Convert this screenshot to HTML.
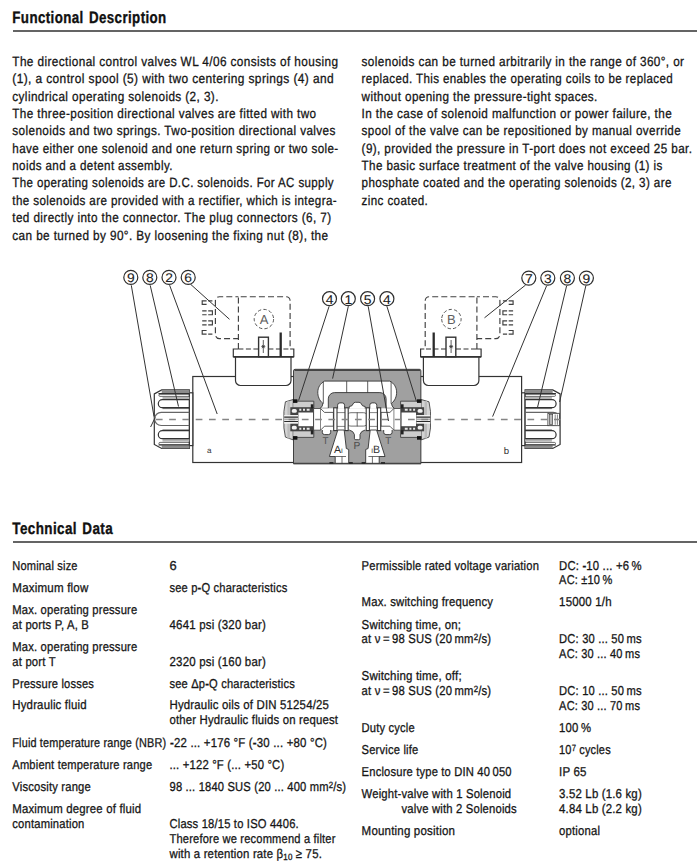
<!DOCTYPE html>
<html lang="en"><head><meta charset="utf-8"><title>Functional Description</title>
<style>
html,body{margin:0;padding:0;background:#fff}
body{text-rendering:geometricPrecision;width:697px;height:868px;position:relative;overflow:hidden;font-family:"Liberation Sans",sans-serif;color:#161616}
.t,.h,.p{position:absolute;white-space:nowrap;line-height:14px;transform-origin:0 0;margin:0}
.p{font-size:13.4px;letter-spacing:0.45px;-webkit-text-stroke:0.3px #161616}
.t{font-size:12.9px;letter-spacing:0.2px;-webkit-text-stroke:0.3px #161616}
.h{font-size:16.6px;font-weight:bold;color:#111;letter-spacing:0.5px;line-height:19px;-webkit-text-stroke:0.35px #111;word-spacing:1.5px}
.sup{font-size:70%;position:relative;top:-0.36em}
.sub{font-size:70%;position:relative;top:0.2em}
.rule{position:absolute;left:13px;width:684px;height:2px;background:#646464}
svg{position:absolute;left:0;top:0}
</style></head><body>
<h2 class="h" id="l0" style="left:12px;top:8px;transform:translateX(0.30px) scaleX(0.8027)">Functional Description</h2>
<h2 class="h" id="l1" style="left:12px;top:519px;transform:translateX(0.30px) scaleX(0.8099)">Technical Data</h2>
<div class="p" id="l2" style="left:12px;top:55px;transform:translateX(0.30px) scaleX(0.8808)">The directional control valves WL 4/06 consists of housing</div>
<div class="p" id="l3" style="left:12px;top:72px;transform:translateX(0.30px) scaleX(0.8900)">(1), a control spool (5) with two centering springs (4) and</div>
<div class="p" id="l4" style="left:12px;top:90px;transform:translateX(0.30px) scaleX(0.8792)">cylindrical operating solenoids (2, 3).</div>
<div class="p" id="l5" style="left:12px;top:107px;transform:translateX(0.30px) scaleX(0.8740)">The three-position directional valves are fitted with two</div>
<div class="p" id="l6" style="left:12px;top:124px;transform:translateX(0.30px) scaleX(0.8767)">solenoids and two springs. Two-position directional valves</div>
<div class="p" id="l7" style="left:12px;top:142px;transform:translateX(0.30px) scaleX(0.8669)">have either one solenoid and one return spring or two sole-</div>
<div class="p" id="l8" style="left:12px;top:159px;transform:translateX(0.30px) scaleX(0.8639)">noids and a detent assembly.</div>
<div class="p" id="l9" style="left:12px;top:176px;transform:translateX(0.30px) scaleX(0.8602)">The operating solenoids are D.C. solenoids. For AC supply</div>
<div class="p" id="l10" style="left:12px;top:194px;transform:translateX(0.30px) scaleX(0.8665)">the solenoids are provided with a rectifier, which is integra-</div>
<div class="p" id="l11" style="left:12px;top:211px;transform:translateX(0.30px) scaleX(0.8763)">ted directly into the connector. The plug connectors (6, 7)</div>
<div class="p" id="l12" style="left:12px;top:229px;transform:translateX(0.30px) scaleX(0.8790)">can be turned by 90°. By loosening the fixing nut (8), the</div>
<div class="p" id="l13" style="left:361px;top:55px;transform:translateX(0.60px) scaleX(0.8770)">solenoids can be turned arbitrarily in the range of 360°, or</div>
<div class="p" id="l14" style="left:361px;top:72px;transform:translateX(0.60px) scaleX(0.8623)">replaced. This enables the operating coils to be replaced</div>
<div class="p" id="l15" style="left:361px;top:90px;transform:translateX(0.60px) scaleX(0.8728)">without opening the pressure-tight spaces.</div>
<div class="p" id="l16" style="left:361px;top:107px;transform:translateX(0.60px) scaleX(0.8773)">In the case of solenoid malfunction or power failure, the</div>
<div class="p" id="l17" style="left:361px;top:124px;transform:translateX(0.60px) scaleX(0.8680)">spool of the valve can be repositioned by manual override</div>
<div class="p" id="l18" style="left:361px;top:142px;transform:translateX(0.60px) scaleX(0.8712)">(9), provided the pressure in T-port does not exceed 25 bar.</div>
<div class="p" id="l19" style="left:361px;top:159px;transform:translateX(0.60px) scaleX(0.8674)">The basic surface treatment of the valve housing (1) is</div>
<div class="p" id="l20" style="left:361px;top:176px;transform:translateX(0.60px) scaleX(0.8676)">phosphate coated and the operating solenoids (2, 3) are</div>
<div class="p" id="l21" style="left:361px;top:194px;transform:translateX(0.60px) scaleX(0.8666)">zinc coated.</div>
<div class="t" id="l22" style="left:12px;top:559px;transform:translateX(0.30px) scaleX(0.8580)">Nominal size</div>
<div class="t" id="l23" style="left:169px;top:559px;transform:translateX(0.50px) scaleX(1.0007)">6</div>
<div class="t" id="l24" style="left:12px;top:581px;transform:translateX(0.30px) scaleX(0.8985)">Maximum flow</div>
<div class="t" id="l25" style="left:169px;top:581px;transform:translateX(0.50px) scaleX(0.8640)">see p<b>-</b>Q characteristics</div>
<div class="t" id="l26" style="left:12px;top:603px;transform:translateX(0.30px) scaleX(0.8710)">Max. operating pressure</div>
<div class="t" id="l27" style="left:12px;top:618px;transform:translateX(0.30px) scaleX(0.8760)">at ports P, A, B</div>
<div class="t" id="l28" style="left:169px;top:618px;transform:translateX(0.50px) scaleX(0.8914)">4641 psi (320 bar)</div>
<div class="t" id="l29" style="left:12px;top:640px;transform:translateX(0.30px) scaleX(0.8710)">Max. operating pressure</div>
<div class="t" id="l30" style="left:12px;top:655px;transform:translateX(0.30px) scaleX(0.8770)">at port T</div>
<div class="t" id="l31" style="left:169px;top:655px;transform:translateX(0.50px) scaleX(0.8914)">2320 psi (160 bar)</div>
<div class="t" id="l32" style="left:12px;top:677px;transform:translateX(0.30px) scaleX(0.8625)">Pressure losses</div>
<div class="t" id="l33" style="left:169px;top:677px;transform:translateX(0.50px) scaleX(0.8632)">see &Delta;p<b>-</b>Q characteristics</div>
<div class="t" id="l34" style="left:12px;top:698px;transform:translateX(0.30px) scaleX(0.8858)">Hydraulic fluid</div>
<div class="t" id="l35" style="left:169px;top:698px;transform:translateX(0.50px) scaleX(0.8859)">Hydraulic oils of DIN 51254/25</div>
<div class="t" id="l36" style="left:169px;top:713px;transform:translateX(0.50px) scaleX(0.8805)">other Hydraulic fluids on request</div>
<div class="t" id="l37" style="left:12px;top:736px;transform:translateX(0.30px) scaleX(0.8425)">Fluid temperature range (NBR)</div>
<div class="t" id="l38" style="left:170px;top:736px;transform:translateX(0.00px) scaleX(0.8863)"><b>-</b>22 ... +176 °F (<b>-</b>30 ... +80 °C)</div>
<div class="t" id="l39" style="left:12px;top:758px;transform:translateX(0.30px) scaleX(0.8644)">Ambient temperature range</div>
<div class="t" id="l40" style="left:169px;top:758px;transform:translateX(0.50px) scaleX(0.8757)">... +122 °F (... +50 °C)</div>
<div class="t" id="l41" style="left:12px;top:780px;transform:translateX(0.30px) scaleX(0.8724)">Viscosity range</div>
<div class="t" id="l42" style="left:169px;top:780px;transform:translateX(0.50px) scaleX(0.8667)">98 ... 1840 SUS (20 ... 400 mm<span class="sup">2</span>/s)</div>
<div class="t" id="l43" style="left:12px;top:802px;transform:translateX(0.30px) scaleX(0.8843)">Maximum degree of fluid</div>
<div class="t" id="l44" style="left:12px;top:817px;transform:translateX(0.30px) scaleX(0.8711)">contamination</div>
<div class="t" id="l45" style="left:169px;top:817px;transform:translateX(0.50px) scaleX(0.8692)">Class 18/15 to ISO 4406.</div>
<div class="t" id="l46" style="left:169px;top:832px;transform:translateX(0.50px) scaleX(0.8628)">Therefore we recommend a filter</div>
<div class="t" id="l47" style="left:169px;top:847px;transform:translateX(0.50px) scaleX(0.8834)">with a retention rate &beta;<span class="sub">10</span> &ge; 75.</div>
<div class="t" id="l48" style="left:361px;top:559px;transform:translateX(0.60px) scaleX(0.8698)">Permissible rated voltage variation</div>
<div class="t" id="l49" style="left:559px;top:559px;transform:translateX(0.10px) scaleX(0.8770)">DC: <b>-</b>10 ... +6&#8201;%</div>
<div class="t" id="l50" style="left:559px;top:573px;transform:translateX(0.10px) scaleX(0.8564)">AC: ±10&#8201;%</div>
<div class="t" id="l51" style="left:361px;top:595px;transform:translateX(0.60px) scaleX(0.8799)">Max. switching frequency</div>
<div class="t" id="l52" style="left:559px;top:595px;transform:translateX(0.10px) scaleX(0.8905)">15000 1/h</div>
<div class="t" id="l53" style="left:361px;top:618px;transform:translateX(0.60px) scaleX(0.8891)">Switching time, on;</div>
<div class="t" id="l54" style="left:361px;top:632px;transform:translateX(0.60px) scaleX(0.8744)">at &nu;&#8201;=&#8201;98 SUS (20&#8201;mm<span class="sup">2</span>/s)</div>
<div class="t" id="l55" style="left:559px;top:632px;transform:translateX(0.10px) scaleX(0.8672)">DC: 30 ... 50&#8201;ms</div>
<div class="t" id="l56" style="left:559px;top:647px;transform:translateX(0.10px) scaleX(0.8558)">AC: 30 ... 40&#8201;ms</div>
<div class="t" id="l57" style="left:361px;top:669px;transform:translateX(0.60px) scaleX(0.8948)">Switching time, off;</div>
<div class="t" id="l58" style="left:361px;top:684px;transform:translateX(0.60px) scaleX(0.8744)">at &nu;&#8201;=&#8201;98 SUS (20&#8201;mm<span class="sup">2</span>/s)</div>
<div class="t" id="l59" style="left:559px;top:684px;transform:translateX(0.10px) scaleX(0.8672)">DC: 10 ... 50&#8201;ms</div>
<div class="t" id="l60" style="left:559px;top:699px;transform:translateX(0.10px) scaleX(0.8558)">AC: 30 ... 70&#8201;ms</div>
<div class="t" id="l61" style="left:361px;top:721px;transform:translateX(0.60px) scaleX(0.8668)">Duty cycle</div>
<div class="t" id="l62" style="left:559px;top:721px;transform:translateX(0.10px) scaleX(0.8774)">100&#8201;%</div>
<div class="t" id="l63" style="left:361px;top:743px;transform:translateX(0.60px) scaleX(0.8675)">Service life</div>
<div class="t" id="l64" style="left:559px;top:743px;transform:translateX(0.10px) scaleX(0.8505)">10<span class="sup">7</span> cycles</div>
<div class="t" id="l65" style="left:361px;top:765px;transform:translateX(0.60px) scaleX(0.8681)">Enclosure type to DIN 40&#8201;050</div>
<div class="t" id="l66" style="left:559px;top:765px;transform:translateX(0.10px) scaleX(0.8933)">IP 65</div>
<div class="t" id="l67" style="left:361px;top:787px;transform:translateX(0.60px) scaleX(0.8759)">Weight-valve with 1 Solenoid</div>
<div class="t" id="l68" style="left:559px;top:787px;transform:translateX(0.10px) scaleX(0.8853)">3.52 Lb (1.6 kg)</div>
<div class="t" id="l69" style="left:401px;top:802px;transform:translateX(0.50px) scaleX(0.8744)">valve with 2 Solenoids</div>
<div class="t" id="l70" style="left:559px;top:802px;transform:translateX(0.10px) scaleX(0.8853)">4.84 Lb (2.2 kg)</div>
<div class="t" id="l71" style="left:361px;top:824px;transform:translateX(0.60px) scaleX(0.8949)">Mounting position</div>
<div class="t" id="l72" style="left:559px;top:824px;transform:translateX(0.10px) scaleX(0.8784)">optional</div>
<div class="rule" style="top:30px"></div>
<div class="rule" style="top:541px"></div>
<svg width="697" height="868" viewBox="0 0 697 868" font-family="Liberation Sans, sans-serif">
<defs>
<g id="half" fill="none" stroke="#333" stroke-width="1.2">
  <!-- solenoid body -->
  <rect x="192.8" y="376.5" width="101.5" height="86" fill="#fff"/>
  <!-- neck -->
  <rect x="189.3" y="392.8" width="3.5" height="52.8" fill="#fff"/>
  <!-- nut -->
  <path d="M161.7 389.9H189.3V448.5H161.7L154.3 444.5V393.9Z" fill="#fff"/>
  <rect x="161.7" y="390.2" width="27.6" height="3" fill="#8c8c8c" stroke="none"/>
  <rect x="161.7" y="445.4" width="27.6" height="3" fill="#8c8c8c" stroke="none"/>
  <rect x="162.5" y="396.8" width="26.8" height="2.9" fill="#b5b5b5" stroke="none"/>
  <rect x="162.5" y="438.7" width="26.8" height="2.9" fill="#b5b5b5" stroke="none"/>
  <path d="M189.3 393.6H158.5M189.3 445H158.5" />
  <path d="M189.3 394.2H160A1.1 1.1 0 0 0 160 396.4H189.3M189.3 442.4H160A1.1 1.1 0 0 0 160 444.6H189.3" stroke-width="0.7"/>
  <path d="M189.3 399.7H162.3A4 4 0 0 0 162.3 407.7H189.3"/>
  <path d="M189.3 430.7H162.3A4 4 0 0 0 162.3 438.7H189.3"/>
  <path d="M189.3 408.6H162.5M189.3 429.9H162.5" stroke-width="0.7"/>
  <path d="M189.3 412.3H161.2A6.6 6.6 0 0 0 161.2 425.5H189.3" stroke="#666"/>
  <!-- connector body -->
  <path d="M235.5 356.5V380.5A5 5 0 0 0 240.5 385.5H286A5 5 0 0 0 291 380.5V356.5" fill="#fff"/>
  <!-- flange -->
  <path d="M238.4 349H233.3V356.7H293.8V349H290.1" fill="#fff"/>
  <path d="M233.3 356.9H293.8" stroke-width="1.6"/>
  <path d="M238.4 349H290.1" stroke-dasharray="5 2.5"/>
  <!-- terminal + bar -->
  <rect x="258.6" y="337.2" width="9.8" height="19.5" fill="#fff" stroke-width="1.4"/>
  <path d="M263.3 340V353M261.3 346.6H265.3M262 345L264.6 348.2M264.6 345L262 348.2" stroke-width="0.8"/>
  <path d="M280.7 332.5V356.7" stroke-width="2.3" stroke="#2a2a2a"/>
</g>
<g id="dashed" fill="none" stroke="#404040" stroke-width="1.15">
  <path d="M238.4 349V296.7H286.1A4 4 0 0 1 290.1 300.7V349" stroke-dasharray="6 3.1"/>
  <path d="M238.4 296.7H219.4A4 4 0 0 0 215.4 300.7V334.6A4 4 0 0 0 219.4 338.6H238.4" stroke-dasharray="6 3.1" stroke-dashoffset="3"/>
  <path d="M212.4 300.8H208.2M206.6 300.8H202.2V304.3H206.6M202.2 310.8H206.6M208.2 310.8H212.4V314.7H208.2M206.6 314.7H202.2M202.2 320.8H206.6M208.2 320.8H212.4V324.8H208.2M206.6 324.8H202.2M206.6 330.5H202.2V334.1H206.6M208.2 334.1H212.4"/>
  <circle cx="263.9" cy="319.1" r="9.7" stroke-dasharray="3.4 2.2" stroke="#555" stroke-width="1"/>
</g>
<g id="cap" stroke="#333" stroke-width="0.8">
  <!-- end cap outside -->
  <path d="M293.2 399.5L285.4 401.8L283.9 411.5V427.9L285.4 437.1L293.2 439.9Z" fill="#d4d4d4"/>
  <path d="M288.6 401V438.4" stroke="#bbb" stroke-width="2.4" fill="none"/>
  <!-- cap inside housing -->
  <rect x="293.2" y="401.2" width="20.6" height="36.2" fill="#cdcdcd" stroke="none"/>
  <path d="M293.2 401.2H313.8V437.4H293.2" fill="none"/>
  <rect x="293" y="399.3" width="4.4" height="3.6" fill="#111" stroke="none"/>
  <rect x="293" y="436.1" width="4.4" height="3.6" fill="#111" stroke="none"/>
  <!-- spring chamber -->
  <rect x="290.3" y="407.2" width="23.5" height="24.1" fill="#444" stroke="none"/>
  <rect x="298.4" y="412.5" width="14.6" height="13.7" fill="#fff" stroke="none"/>
  <rect x="291.8" y="409" width="5" height="3.8" rx="1.6" fill="#f2f2f2" stroke="none"/>
  <rect x="291.8" y="425.8" width="5" height="3.8" rx="1.6" fill="#f2f2f2" stroke="none"/>
  <path d="M299.3 409.8H301.3M303 409.8H305M306.7 409.8H309.6M299.3 428.8H301.3M303 428.8H305M306.7 428.8H309.6" stroke="#e8e8e8" stroke-width="2"/>
  <rect x="310.8" y="404.3" width="2.6" height="4.2" fill="#222" stroke="none"/>
  <rect x="310.8" y="430.2" width="2.6" height="4.2" fill="#222" stroke="none"/>
  <!-- pin -->
  <rect x="284.2" y="415" width="13.8" height="8.7" fill="#f1f1f1" stroke="none"/>
  <path d="M284.2 417.2H298M284.2 421.5H298" stroke="#2a2a2a" stroke-width="1.2"/>
  <path d="M284.2 419.3H298" stroke="#aaa" stroke-width="1.6"/>
</g>
<g id="inner" stroke="#333" stroke-width="0.8">
  <!-- spool left half -->
  <path d="M313.6 408.5H320.5L324.5 412.4H333.4V426.2H324.5L320.5 430.2H313.6Z" fill="#fff"/>
  <path d="M320.5 408.5V430.2" fill="none" stroke-width="0.6"/>
  <rect x="333.7" y="407.8" width="3.3" height="22.8" fill="#fff" stroke-width="1.1"/>
  <path d="M337 412.6H345M337 426.4H345" fill="none" stroke-width="0.6"/>
  <rect x="345" y="407.8" width="3.2" height="22.8" fill="#fff" stroke-width="1.1"/>
  <path d="M348.3 413.6Q349.3 412.7 351 412.7H357.3M348.3 425.2Q349.3 426.1 351 426.1H357.3" fill="none" stroke-width="0.7"/>
</g>
</defs>

<!-- solenoids etc. -->
<use href="#half"/>
<use href="#half" transform="translate(714.4,0) scale(-1,1)"/>
<use href="#dashed"/>
<use href="#dashed" transform="translate(715.3,0) scale(-1,1)"/>

<!-- housing -->
<g stroke="#333" stroke-width="0.9">
  <path d="M295 369.3H419.4Q420.9 369.3 420.9 370.8V463.7H293.5V370.8Q293.5 369.3 295 369.3Z" fill="#a0a0a0"/>
  <path d="M294.5 370.1H420" stroke="#444" stroke-width="1.6" fill="none"/>
  <path d="M293.5 463.5H420.9" stroke="#444" stroke-width="1.3" fill="none"/>
  <!-- T channel white -->
  <path d="M320.3 408.3Q322.9 406.2 322.9 403.4C316 398 315.6 385.6 324.6 381.1H389.8C398.8 385.6 398.4 398 391.5 403.4Q391.5 406.2 394.1 408.3H386.1V398.8A6.2 6.2 0 0 0 379.9 392.6H334.5A6.2 6.2 0 0 0 328.3 398.8V408.3Z" fill="#fff"/>
  <path d="M323.3 381.8V403.7M391.1 381.8V403.7M346.7 381.1V392.6M367.7 381.1V392.6" fill="none" stroke-width="0.8"/>
  <!-- bore -->
  <rect x="313.6" y="408.3" width="87.2" height="21.9" fill="#fff" stroke="none"/>
  <!-- bumps above bore -->
  <path d="M337.6 408.5V405.2A2.3 2.3 0 0 1 339.9 402.9H342.3A2.3 2.3 0 0 1 344.6 405.2V408.5" fill="#fff"/>
  <path d="M369.8 408.5V405.2A2.3 2.3 0 0 1 372.1 402.9H374.5A2.3 2.3 0 0 1 376.8 405.2V408.5" fill="#fff"/>
  <path d="M349.2 408.5V406.5Q352.6 406.3 353 404Q353.6 402.3 355.4 402.3H359Q360.8 402.3 361.4 404Q361.8 406.3 365.2 406.5V408.5" fill="#fff"/>
  <!-- T pockets below bore -->
  <path d="M322.3 430V432.3A2.3 2.3 0 0 0 324.6 434.6H328.4A2.3 2.3 0 0 0 330.7 432.3V430" fill="#fff"/>
  <path d="M383.7 430V432.3A2.3 2.3 0 0 0 386 434.6H389.8A2.3 2.3 0 0 0 392.1 432.3V430" fill="#fff"/>
  <!-- A port -->
  <path d="M337.8 430L329.4 456.5H335.2V463.3H348.7V449.5L346.3 448.5L344.2 430Z" fill="#fff"/>
  <path d="M335.2 456.5H346M342 456.5V463.3" fill="none" stroke-width="0.7"/>
  <!-- B port -->
  <path d="M376.6 430L385 456.5H379.2V463.3H365.7V449.5L368.1 448.5L370.2 430Z" fill="#fff"/>
  <path d="M379.2 456.5H368.4M372.4 456.5V463.3" fill="none" stroke-width="0.7"/>
  <!-- P funnel -->
  <path d="M349.2 430Q353.6 431 354.4 434.5V438.3Q354.4 439.7 355.8 439.7H358.6Q360 439.7 360 438.3V434.5Q360.8 431 365.2 430" fill="#fff"/>
  <!-- seat marks -->
  <path d="M329.4 462.9H333.4M348.9 462.9H352.8M361.6 462.9H365.5M381 462.9H385" stroke="#111" stroke-width="1.4" fill="none"/>
</g>
<use href="#cap"/>
<use href="#cap" transform="translate(714.4,0) scale(-1,1)"/>
<use href="#inner"/>
<use href="#inner" transform="translate(714.4,0) scale(-1,1)"/>
<path d="M357.2 412.5V426.3" stroke="#444" stroke-width="0.8" fill="none"/>

<!-- right nut pin -->
<g stroke="#333" stroke-width="0.8" fill="none">
  <rect x="547.9" y="413.3" width="11.6" height="12.4" fill="#fff"/>
  <rect x="549.5" y="414.6" width="3.2" height="9.8" fill="#bbb" stroke-width="0.6"/>
  <path d="M555.2 414.5V424.8M557.4 414.5V424.8" stroke-width="0.6"/>
</g>

<!-- centre line -->
<path d="M155.9 419.4H564" stroke="#858585" stroke-width="1.5" stroke-dasharray="6.7 6.57" fill="none"/>

<!-- labels inside drawing -->
<g fill="#555" font-size="9.5" text-anchor="middle">
  <text x="264" y="323.8" font-size="13" fill="#5e5e5e">A</text>
  <text x="451.3" y="323.8" font-size="13" fill="#5e5e5e">B</text>
  <text x="325.6" y="444.2" font-size="9.8" fill="#555">T</text>
  <text x="388.2" y="444.2" font-size="9.8" fill="#555">T</text>
  <text x="356.8" y="449.3" font-size="10.2" fill="#4c4c4c">P</text>
  <text x="338.4" y="452.8" font-size="10.6" fill="#2e2e2e">A<tspan font-size="6.5">I</tspan></text>
  <text x="375.6" y="452.8" font-size="10.6" fill="#2e2e2e"><tspan font-size="6.5">I</tspan>B</text>
  <text x="209.3" y="453.2" font-size="8" fill="#333">a</text>
  <text x="506.4" y="454" font-size="9.5" fill="#333">b</text>
</g>

<!-- leader lines -->
<g stroke="#333" stroke-width="1" fill="none">
  <path d="M131.3 285.3L154 416.5M155.2 417.5L150.6 427"/>
  <path d="M150.2 285.3L178.5 406.5"/>
  <path d="M169.6 285.2L217.2 414"/>
  <path d="M190.5 284.2L229.5 319.3"/>
  <path d="M329.1 306.3L298.6 400.5"/>
  <path d="M348.3 306.3L332.6 378.6"/>
  <path d="M368.2 306.3L388.5 421"/>
  <path d="M386.9 306.3L416.4 401.3"/>
  <path d="M525.6 285L484.5 317.8"/>
  <path d="M546.6 285.8L492.6 416.6"/>
  <path d="M566.6 285.9L537.6 407"/>
  <path d="M585.8 285.9L559.6 402"/>
</g>

<!-- circled numbers -->
<g stroke="#2e2e2e" stroke-width="1.2" fill="#fff">
  <circle cx="130.8" cy="277.4" r="7"/><circle cx="149.8" cy="277.4" r="7"/><circle cx="169.0" cy="277.4" r="7"/><circle cx="188.2" cy="277.4" r="7"/>
  <circle cx="329.5" cy="298.7" r="7"/><circle cx="348.3" cy="298.7" r="7"/><circle cx="367.6" cy="298.7" r="7"/><circle cx="386.9" cy="298.7" r="7"/>
  <circle cx="528.8" cy="278.1" r="7"/><circle cx="547.8" cy="278.1" r="7"/><circle cx="567.4" cy="278.1" r="7"/><circle cx="586.4" cy="278.1" r="7"/>
</g>
<g fill="#222" stroke="#222" stroke-width="0.1" font-size="12.6" text-anchor="middle">
  <text transform="translate(130.8 282.3) scale(1.1 1)">9</text><text transform="translate(149.8 282.3) scale(1.1 1)">8</text><text transform="translate(169.0 282.3) scale(1.1 1)">2</text><text transform="translate(188.2 282.3) scale(1.1 1)">6</text>
  <text transform="translate(329.5 303.6) scale(1.1 1)">4</text><text transform="translate(348.3 303.6) scale(1.1 1)">1</text><text transform="translate(367.6 303.6) scale(1.1 1)">5</text><text transform="translate(386.9 303.6) scale(1.1 1)">4</text>
  <text transform="translate(528.8 283.0) scale(1.1 1)">7</text><text transform="translate(547.8 283.0) scale(1.1 1)">3</text><text transform="translate(567.4 283.0) scale(1.1 1)">8</text><text transform="translate(586.4 283.0) scale(1.1 1)">9</text>
</g>
</svg>

</body></html>
